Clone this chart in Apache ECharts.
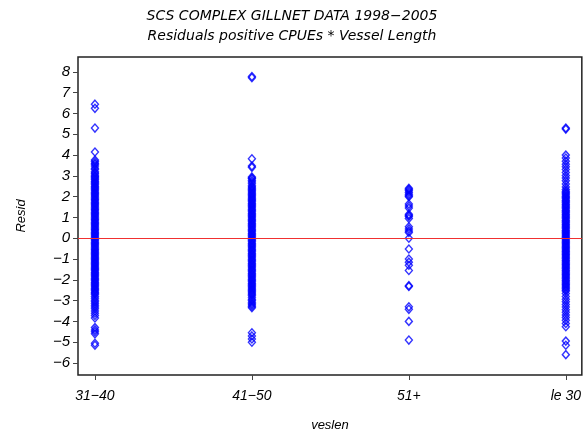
<!DOCTYPE html>
<html style="height:100%;">
<head>
  <meta charset="utf-8">
  <script src="https://cdn.jsdelivr.net/npm/echarts@6/dist/echarts.min.js"></script>
  <style>
    html, body { margin: 0; padding: 0; background: #fff; }
    #chart { width: 584px; height: 439px; }
  </style>
</head>
<body>
  <div id="chart"></div>
  <script>
    // vessel length classes on the x axis
    var categories = ['31\u221240', '41\u221250', '51+', 'le 30'];
    var yTicks = [-6, -5, -4, -3, -2, -1, 0, 1, 2, 3, 4, 5, 6, 7, 8];

    // residuals, one list per class
    var resid3140 = [6.45, 6.25, 5.3, 4.15, 3.76, 3.69, 3.61, 3.56, 3.47, 3.37, 3.31, 3.2, 3.14, 3.09, 3.01, 2.97,
      2.92, 2.86, 2.81, 2.74, 2.69, 2.63, 2.57, 2.5, 2.45, 2.39, 2.33, 2.27, 2.2, 2.15, 2.09, 2.03, 1.97, 1.9, 1.85,
      1.79, 1.72, 1.67, 1.61, 1.55, 1.49, 1.42, 1.37, 1.31, 1.24, 1.19, 1.13, 1.07, 1.01, 0.94, 0.89, 0.83, 0.76,
      0.71, 0.65, 0.59, 0.53, 0.46, 0.41, 0.35, 0.28, 0.23, 0.17, 0.11, 0.05, -0.02, -0.07, -0.13, -0.2, -0.25,
      -0.31, -0.37, -0.43, -0.5, -0.55, -0.61, -0.68, -0.73, -0.79, -0.85, -0.91, -0.98, -1.03, -1.09, -1.16, -1.21,
      -1.27, -1.33, -1.39, -1.46, -1.51, -1.57, -1.64, -1.69, -1.75, -1.81, -1.87, -1.94, -1.99, -2.05, -2.12,
      -2.17, -2.23, -2.29, -2.35, -2.42, -2.47, -2.53, -2.6, -2.65, -2.71,
      -2.8, -2.89, -2.98, -3.06, -3.14, -3.23, -3.31, -3.39, -3.5, -3.61, -3.72, -3.84,
      -4.3, -4.41, -4.5, -4.6, -5.05, -5.15];
    var resid4150 = [7.78, 7.72, 3.82, 3.47, 3.41, 2.95, 2.9, 2.86, 2.78, 2.7, 2.62,
      2.52, 2.47, 2.41, 2.34, 2.29, 2.23, 2.16, 2.11, 2.05, 1.99, 1.93, 1.86, 1.81, 1.75, 1.68, 1.63, 1.57, 1.51,
      1.45, 1.38, 1.33, 1.27, 1.2, 1.15, 1.09, 1.03, 0.97, 0.9, 0.85, 0.79, 0.72, 0.67, 0.61, 0.55, 0.49, 0.42,
      0.37, 0.31, 0.24, 0.19, 0.13, 0.07, 0.01, -0.06, -0.11, -0.17, -0.24, -0.29, -0.35, -0.41, -0.47, -0.54,
      -0.59, -0.65, -0.72, -0.77, -0.83, -0.89, -0.95, -1.02, -1.07, -1.13, -1.2, -1.25, -1.31, -1.37, -1.43, -1.5,
      -1.55, -1.61, -1.68, -1.73, -1.79, -1.85, -1.91, -1.98, -2.03, -2.09, -2.16, -2.21, -2.27, -2.33, -2.39,
      -2.46, -2.51, -2.57, -2.64, -2.69, -2.75,
      -2.84, -2.93, -3.0, -3.08, -3.15, -3.21, -3.28, -3.34, -4.55, -4.7, -4.85, -5.0];
    var resid51 = [2.4, 2.35, 2.28, 2.2, 2.12, 2.05, 2.0, 1.65, 1.55, 1.45, 1.15, 1.1, 1.05, 0.95, 0.55, 0.45, 0.35,
      0.28, 0.0, -0.52, -1.0, -1.15, -1.3, -1.55, -2.28, -2.32, -3.3, -3.42, -4.0, -4.9];
    var residLe30 = [5.3, 5.25, 4.0, 3.86, 3.71, 3.56, 3.44, 3.31, 3.16, 3.02, 2.9, 2.76, 2.61, 2.47, 2.35,
      2.26, 2.2, 2.14, 2.08, 2.01, 1.96, 1.9, 1.83, 1.78, 1.72, 1.65, 1.6, 1.54, 1.48, 1.42, 1.35, 1.3, 1.24, 1.17,
      1.12, 1.06, 1.0, 0.94, 0.87, 0.82, 0.76, 0.69, 0.64, 0.58, 0.52, 0.46, 0.39, 0.34, 0.28, 0.21, 0.16, 0.1,
      0.04, -0.02, -0.09, -0.14, -0.2, -0.27, -0.32, -0.38, -0.44, -0.5, -0.57, -0.62, -0.68, -0.75, -0.8, -0.86,
      -0.92, -0.98, -1.05, -1.1, -1.16, -1.23, -1.28, -1.34, -1.4, -1.46, -1.53, -1.58, -1.64, -1.71, -1.76, -1.82,
      -1.88, -1.94, -2.01, -2.06, -2.12, -2.19, -2.24, -2.3, -2.36, -2.42, -2.49, -2.54,
      -2.66, -2.8, -2.94, -3.06, -3.19, -3.31, -3.44, -3.56, -3.69, -3.81, -3.95, -4.1, -4.26, -4.95, -5.15, -5.6];

    var allResid = [resid3140, resid4150, resid51, residLe30];
    var points = [];
    allResid.forEach(function (list, i) {
      list.forEach(function (v) { points.push([i, v]); });
    });

    var font = 'Liberation Sans, Arial, sans-serif';
    var titleFont = 'DejaVu Sans, Verdana, sans-serif';
    var chart = echarts.init(document.getElementById('chart'));
    var option = {
      backgroundColor: '#fff',
      animation: false,
      title: {
        text: 'SCS COMPLEX GILLNET DATA 1998\u22122005',
        subtext: 'Residuals positive CPUEs * Vessel Length',
        left: 'center',
        top: 4,
        itemGap: 6,
        textStyle: { fontFamily: titleFont, fontStyle: 'italic', fontWeight: 'normal', fontSize: 14, color: '#000' },
        subtextStyle: { fontFamily: titleFont, fontStyle: 'italic', fontSize: 14, color: '#000' }
      },
      grid: {
        left: 78, right: 2, top: 57, bottom: 64,
        show: true, borderColor: '#222', borderWidth: 1.5
      },
      xAxis: {
        type: 'value',
        min: -0.108,
        max: 3.102,
        name: 'veslen',
        nameLocation: 'middle',
        nameGap: 44,
        nameTextStyle: { fontFamily: font, fontStyle: 'italic', fontSize: 13, color: '#000' },
        splitLine: { show: false },
        axisLine: { show: false, onZero: false },
        axisTick: { show: true, length: 5, customValues: [0, 1, 2, 3], lineStyle: { color: '#444' } },
        axisLabel: {
          customValues: [0, 1, 2, 3],
          margin: 14,
          fontFamily: font, fontStyle: 'italic', fontSize: 14, color: '#000',
          formatter: function (v) { return categories[Math.round(v)]; }
        }
      },
      yAxis: {
        type: 'value',
        min: -6.58,
        max: 8.72,
        name: 'Resid',
        nameLocation: 'middle',
        nameGap: 50,
        nameTextStyle: { fontFamily: font, fontStyle: 'italic', fontSize: 13, color: '#000' },
        splitLine: { show: false },
        axisLine: { show: false, onZero: false },
        axisTick: { show: true, length: 5, customValues: yTicks, lineStyle: { color: '#444' } },
        axisLabel: {
          customValues: yTicks,
          margin: 8,
          fontFamily: font, fontStyle: 'italic', fontSize: 15, color: '#000',
          formatter: function (v) { return String(v).replace('-', '\u2212'); }
        }
      },
      series: [{
        type: 'scatter',
        symbol: 'diamond',
        symbolSize: [7, 8],
        data: points,
        itemStyle: { color: 'rgba(0,0,0,0)', borderColor: '#0000ff', borderWidth: 1.4 },
        markLine: {
          silent: true,
          symbol: 'none',
          label: { show: false },
          lineStyle: { color: '#f03030', width: 1, type: 'solid' },
          data: [{ yAxis: 0 }]
        }
      }]
    };
    chart.setOption(option);
  </script>
</body>
</html>
